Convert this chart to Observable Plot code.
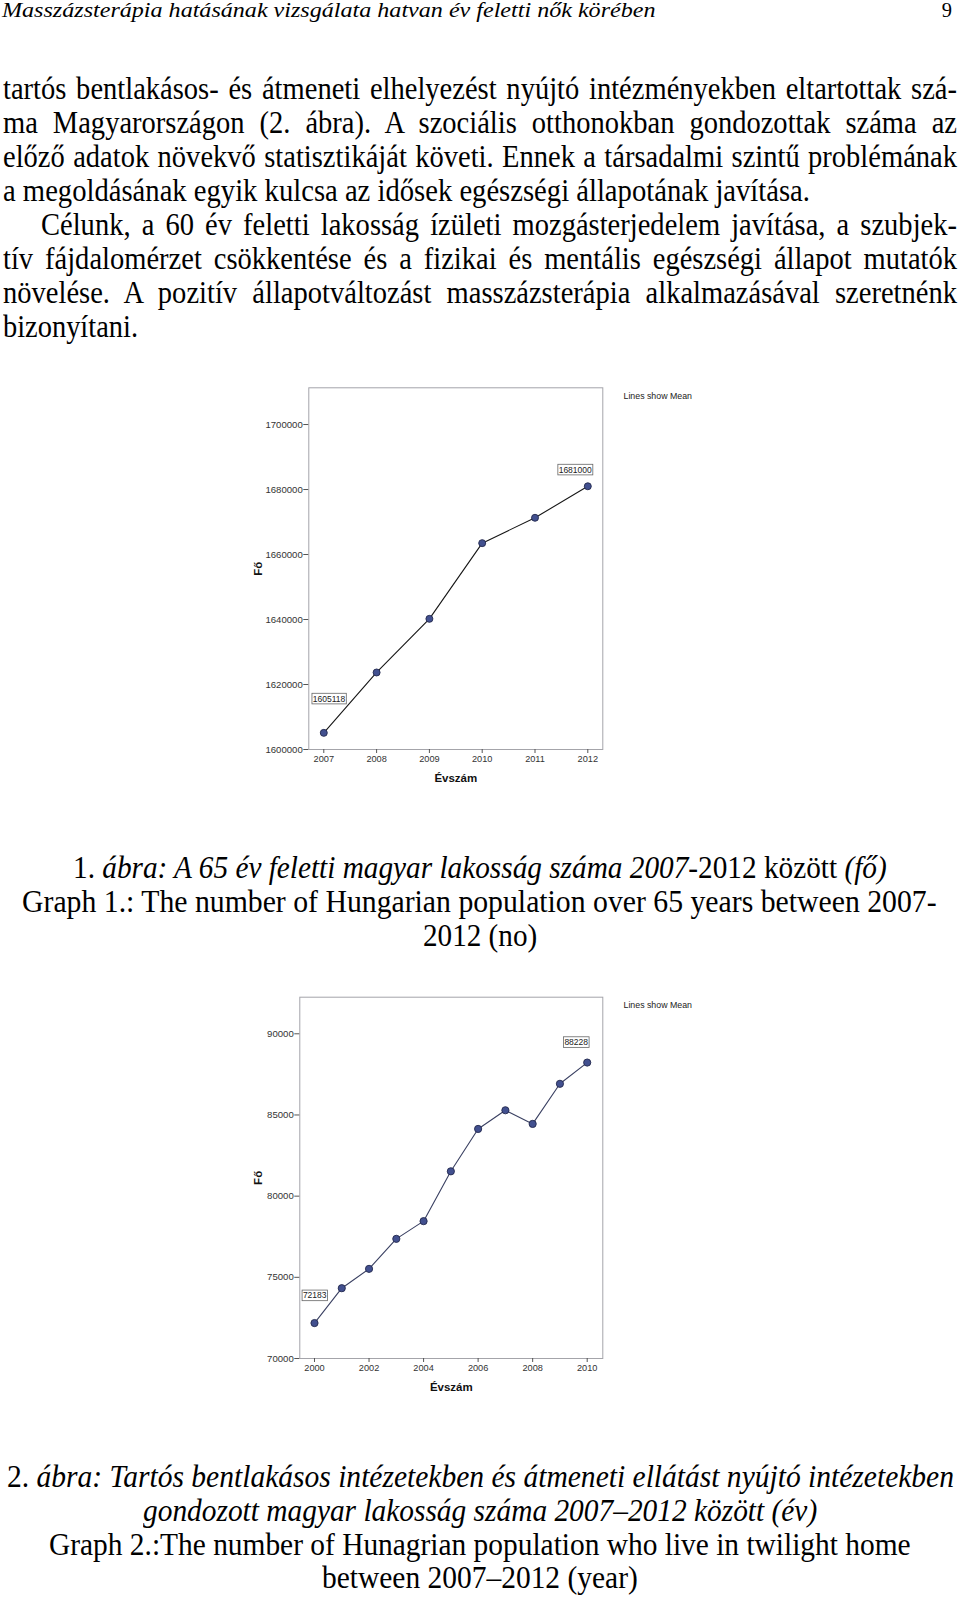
<!DOCTYPE html>
<html>
<head>
<meta charset="utf-8">
<script src="https://cdn.jsdelivr.net/npm/d3@7"></script>
<script src="https://cdn.jsdelivr.net/npm/@observablehq/plot@0.6"></script>
<style>
  html, body { margin: 0; padding: 0; background: #fff; }
  #page { position: relative; width: 960px; height: 1597px; overflow: hidden; background: #fff; }
  .ln { position: absolute; white-space: pre; line-height: 1.2; transform-origin: 0 0; color: #000;
        font-family: "Liberation Serif", "Times New Roman", serif; }
  .mk { display: inline-block; width: 0; height: 0; }
  .chart { position: absolute; }
</style>
</head>
<body>
<div id="page">
  <div id="chart1" class="chart" style="left:240px; top:380px;"></div>
  <div id="chart2" class="chart" style="left:240px; top:990px;"></div>
</div>
<script>
// ---------------- DATA ----------------
const years1 = [2007, 2008, 2009, 2010, 2011, 2012];
const over65Population = [1605118, 1623700, 1640200, 1663500, 1671300, 1681000];
const xTicks1 = [2007, 2008, 2009, 2010, 2011, 2012];
const yTicks1 = [1600000, 1620000, 1640000, 1660000, 1680000, 1700000];

const years2 = [2000, 2001, 2002, 2003, 2004, 2005, 2006, 2007, 2008, 2009, 2010];
const careHomeResidents = [72183, 74330, 75520, 77370, 78460, 81530, 84140, 85290, 84450, 86920, 88228];
const xTicks2 = [2000, 2002, 2004, 2006, 2008, 2010];
const yTicks2 = [70000, 75000, 80000, 85000, 90000];

const xAxisTitle = "Évszám";
const yAxisTitle = "Fő";
const noteText = "Lines show Mean";

// ---------------- PAGE TEXT ----------------
const headerText = "Masszázsterápia hatásának vizsgálata hatvan év feletti nők körében";
const pageNumber = "9";
const paragraphLines = [
  "tartós bentlakásos- és átmeneti elhelyezést nyújtó intézményekben eltartottak szá-",
  "ma Magyarországon (2. ábra). A szociális otthonokban gondozottak száma az",
  "előző adatok növekvő statisztikáját követi. Ennek a társadalmi szintű problémának",
  "a megoldásának egyik kulcsa az idősek egészségi állapotának javítása.",
  "Célunk, a 60 év feletti lakosság ízületi mozgásterjedelem javítása, a szubjek-",
  "tív fájdalomérzet csökkentése és a fizikai és mentális egészségi állapot mutatók",
  "növelése. A pozitív állapotváltozást masszázsterápia alkalmazásával szeretnénk",
  "bizonyítani."
];
const caption1Lines = [
  [["1. ", false], ["ábra: A 65 év feletti magyar lakosság száma 2007", true], ["-2012 között ", false], ["(fő)", true]],
  [["Graph 1.: The number of Hungarian population over 65 years between 2007-", false]],
  [["2012 (no)", false]]
];
const caption2Lines = [
  [["2. ", false], ["ábra: Tartós bentlakásos intézetekben és átmeneti ellátást nyújtó intézetekben", true]],
  [["gondozott magyar lakosság száma 2007–2012 között (év)", true]],
  [["Graph 2.:The number of Hunagrian population who live in twilight home", false]],
  [["between 2007–2012 (year)", false]]
];

// ---------------- TEXT LAYOUT ----------------
const page = document.getElementById("page");
function makeLine(segs, fs) {
  const div = document.createElement("div");
  div.className = "ln";
  div.style.fontSize = fs + "px";
  div.style.left = "0px"; div.style.top = "0px";
  const mk = document.createElement("span"); mk.className = "mk";
  const inner = document.createElement("span");
  for (const [t, it] of segs) {
    const s = document.createElement("span");
    s.textContent = t;
    if (it) s.style.fontStyle = "italic";
    inner.appendChild(s);
  }
  div.appendChild(mk); div.appendChild(inner);
  page.appendChild(div);
  const natW = inner.getBoundingClientRect().width;
  const baseOff = mk.getBoundingClientRect().bottom - div.getBoundingClientRect().top;
  return {div, inner, natW, baseOff, spaces: segs.map(s => s[0]).join("").trim().split(" ").length - 1};
}
function placeFit(l, x0, x1, baseline) {
  const sx = (x1 - x0) / l.natW;
  l.div.style.left = x0 + "px";
  l.div.style.top = (baseline - l.baseOff) + "px";
  l.div.style.transform = `scaleX(${sx})`;
  return sx;
}
function placeJustify(l, x0, x1, baseline, sx) {
  const ws = ((x1 - x0) / sx - l.natW) / l.spaces;
  l.inner.style.wordSpacing = ws + "px";
  l.div.style.left = x0 + "px";
  l.div.style.top = (baseline - l.baseOff) + "px";
  l.div.style.transform = `scaleX(${sx})`;
}

// header
const hdr = makeLine([[headerText, true]], 20.5);
placeFit(hdr, 1.5, 655, 17.3);
const pn = makeLine([[pageNumber, false]], 20.5);
pn.div.style.left = (952 - pn.natW) + "px";
pn.div.style.top = (17.3 - pn.baseOff) + "px";

// paragraph
const bodyFs = 31.5;
const bodyBase0 = 99, bodyStep = 33.95;
const lines = paragraphLines.map(t => makeLine([[t, false]], bodyFs));
const lastLineSpec = {3: 810, 7: 138};
const sxs = [];
for (const [i, x1] of Object.entries(lastLineSpec)) {
  sxs.push(placeFit(lines[i], 3, x1, bodyBase0 + i * bodyStep));
}
const bodySx = d3.mean(sxs);
lines.forEach((l, i) => {
  if (i in lastLineSpec) return;
  const x0 = i === 4 ? 41 : 3;
  placeJustify(l, x0, 957, bodyBase0 + i * bodyStep, bodySx);
});

// captions
const cap1Pos = [[73.3, 887, 878.3], [22.4, 937, 911.9], [422.5, 536.7, 945.5]];
caption1Lines.forEach((segs, i) => placeFit(makeLine(segs, bodyFs), ...cap1Pos[i]));
const cap2Pos = [[7, 954, 1487.4], [142.6, 816.8, 1521], [48.9, 910.5, 1554.5], [321.8, 637.6, 1588.2]];
caption2Lines.forEach((segs, i) => placeFit(makeLine(segs, bodyFs), ...cap2Pos[i]));

// ---------------- CHARTS ----------------
const sans = '"Liberation Sans", Arial, Helvetica, sans-serif';
function meanChart(cfg) {
  const data = cfg.years.map((year, i) => ({year, value: cfg.values[i]}));
  const first = data[0], last = data[data.length - 1];
  return Plot.plot({
    width: 480, height: 420,
    marginLeft: cfg.ml, marginRight: 117.7, marginTop: cfg.mt, marginBottom: cfg.mb,
    style: {fontFamily: sans, background: "transparent", color: "#333", overflow: "visible"},
    x: {type: "linear", domain: cfg.xDomain},
    y: {type: "linear", domain: cfg.yDomain},
    marks: [
      Plot.frame({stroke: "#a4a4aa", strokeWidth: 1}),
      Plot.axisY(cfg.yTicks, {tickSize: 5, tickPadding: 1, tickFormat: d => String(d), fontSize: 9.6, stroke: "#555", fill: "#333", label: null}),
      Plot.axisX(cfg.xTicks, {tickSize: 4, tickPadding: 2, tickFormat: d => String(d), fontSize: 9.2, stroke: "#555", fill: "#333", label: null}),
      Plot.line(data, {x: "year", y: "value", stroke: cfg.lineColor, strokeWidth: 1.1}),
      Plot.dot(data, {x: "year", y: "value", r: cfg.r, fill: "#42508f", stroke: "#23284d", strokeWidth: 0.9}),
      Plot.text([first], {x: "year", y: "value", text: d => String(d.value), dx: cfg.firstOff[0], dy: cfg.firstOff[1], fontSize: 8.5, fill: "#222", className: "endlbl"}),
      Plot.text([last], {x: "year", y: "value", text: d => String(d.value), dx: cfg.lastOff[0], dy: cfg.lastOff[1], fontSize: 8.5, fill: "#222", className: "endlbl"}),
      Plot.text([noteText], {frameAnchor: "top-right", textAnchor: "start", lineAnchor: "middle", dx: 20.7, dy: cfg.noteDy, fontSize: 8.8, fill: "#222"}),
      Plot.text([xAxisTitle], {frameAnchor: "bottom", lineAnchor: "middle", textAnchor: "middle", dy: 29.3, fontSize: 11.5, fontWeight: "bold", fill: "#111"}),
      Plot.text([yAxisTitle], {frameAnchor: "left", textAnchor: "middle", lineAnchor: "middle", dx: cfg.yTitleDx, rotate: -90, fontSize: 11.5, fontWeight: "bold", fill: "#111"})
    ]
  });
}
function boxLabels(svg) {
  svg.querySelectorAll("g.endlbl text").forEach(t => {
    const b = t.getBBox();
    const r = document.createElementNS("http://www.w3.org/2000/svg", "rect");
    r.setAttribute("x", b.x - 0.8); r.setAttribute("y", b.y - 0.3);
    r.setAttribute("width", b.width + 1.6); r.setAttribute("height", b.height + 0.6);
    r.setAttribute("fill", "#fff"); r.setAttribute("stroke", "#666"); r.setAttribute("stroke-width", 0.8);
    if (t.getAttribute("transform")) r.setAttribute("transform", t.getAttribute("transform"));
    t.parentNode.insertBefore(r, t);
  });
}

const c1 = meanChart({
  years: years1, values: over65Population, xTicks: xTicks1, yTicks: yTicks1,
  xDomain: [2006.716, 2012.284], yDomain: [1600000, 1711300],
  ml: 68.3, mt: 7.3, mb: 51, lineColor: "#161616", r: 3.5,
  firstOff: [5.2, -34], lastOff: [-12.6, -16.4], noteDy: 8.7, yTitleDx: -50
});
document.getElementById("chart1").appendChild(c1);
boxLabels(c1);

const c2 = meanChart({
  years: years2, values: careHomeResidents, xTicks: xTicks2, yTicks: yTicks2,
  xDomain: [1999.461, 2010.572], yDomain: [70000, 92254],
  ml: 59.3, mt: 6.7, mb: 52, lineColor: "#3a4062", r: 3.6,
  firstOff: [0.2, -27.4], lastOff: [-11, -20.2], noteDy: 8.3, yTitleDx: -41
});
document.getElementById("chart2").appendChild(c2);
boxLabels(c2);
</script>
</body>
</html>
